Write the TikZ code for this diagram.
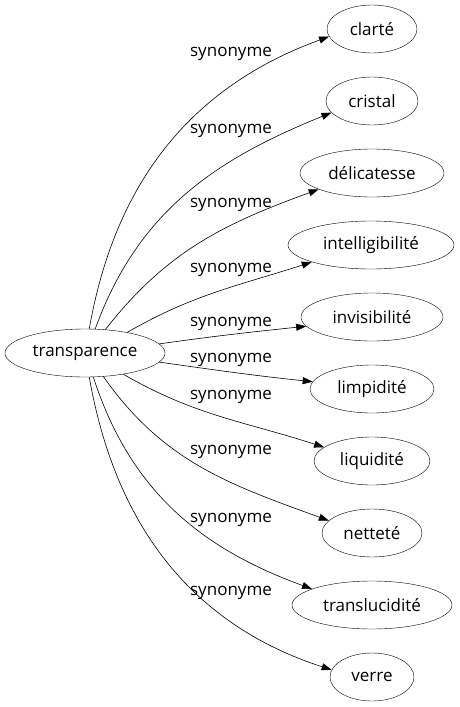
\documentclass[tikz,border=0pt]{standalone}
\usepackage{fontspec}
\setmainfont{Open Sans}
\usetikzlibrary{shapes.geometric,arrows.meta}
\tikzset{
  word/.style={ellipse, draw, minimum height=48pt, inner sep=0pt, font=\fontsize{17}{20}\selectfont},
  synlab/.style={font=\fontsize{17}{20}\selectfont, inner sep=0pt},
  syn/.style={-{Triangle[length=10pt,width=7pt]}, line width=0.6pt}
}
\begin{document}
\begin{tikzpicture}[x=1pt,y=1pt]
\useasboundingbox (0,0) rectangle (459,-707);
\node[word, minimum width=160pt] (tr) at (85,-353) {transparence};
\node[word, minimum width=90pt] (clarte) at (372,-29) {clarté};
\node[word, minimum width=92pt] (cristal) at (372,-101) {cristal};
\node[word, minimum width=144pt] (delic) at (372,-173) {délicatesse};
\node[word, minimum width=166pt] (intel) at (371,-245) {intelligibilité};
\node[word, minimum width=142pt] (invis) at (372,-317) {invisibilité};
\node[word, minimum width=124pt] (limpi) at (372,-389) {limpidité};
\node[word, minimum width=116pt] (liqui) at (372,-461) {liquidité};
\node[word, minimum width=100pt] (nette) at (372,-533) {netteté};
\node[word, minimum width=160pt] (trans) at (372,-605) {translucidité};
\node[word, minimum width=84pt] (verre) at (372,-677) {verre};
% edge labels
\node[synlab] (l1) at (231,-54) {synonyme};
\node[synlab] (l2) at (231,-131) {synonyme};
\node[synlab] (l3) at (231,-205) {synonyme};
\node[synlab] (l4) at (231,-270) {synonyme};
\node[synlab] (l5) at (231,-324) {synonyme};
\node[synlab] (l6) at (231,-360) {synonyme};
\node[synlab] (l7) at (231,-397) {synonyme};
\node[synlab] (l8) at (231,-452) {synonyme};
\node[synlab] (l9) at (231,-520) {synonyme};
\node[synlab] (l10) at (231,-593) {synonyme};
% edges
\draw[syn] (tr.80) to[out=80, in=200] (clarte.190);
\draw[syn] (tr.67) to[out=70, in=202] (cristal.196);
\draw[syn] (tr.49) to[out=52, in=200] (delic.197);
\draw[syn] (tr.26) to[out=30, in=198] (intel.196);
\draw[syn] (tr.7.5) to[out=8, in=186] (invis.188);
\draw[syn] (tr.-7.6) to[out=-8, in=174] (limpi.173);
\draw[syn] (tr.-29) to[out=-30, in=162] (liqui.164);
\draw[syn] (tr.-52) to[out=-55, in=160] (nette.164);
\draw[syn] (tr.-71) to[out=-72, in=160] (trans.165);
\draw[syn] (tr.-80) to[out=-80, in=162] (verre.170);
\end{tikzpicture}
\end{document}
